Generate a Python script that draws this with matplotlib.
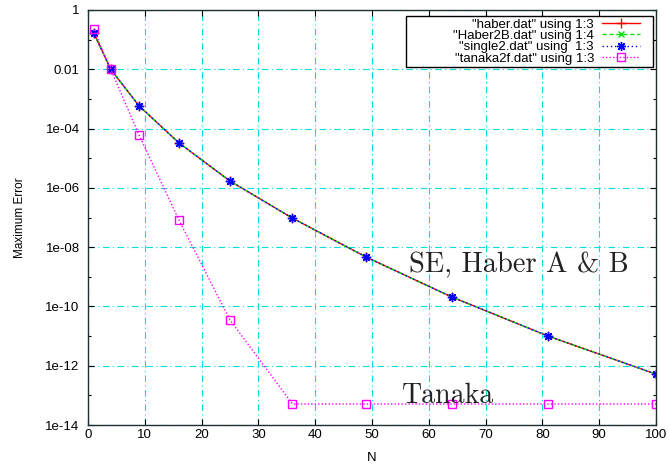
import numpy as np
import matplotlib.pyplot as plt
from matplotlib.patches import Rectangle
from matplotlib.ticker import FixedLocator, FuncFormatter, NullFormatter

plt.rcParams["font.family"] = ["Liberation Sans", "DejaVu Sans"]

# grid sizes N and maximum errors of each run
n_vals = [1, 4, 9, 16, 25, 36, 49, 64, 81, 100]
haber_err = [0.17, 1.0e-2, 5.8e-4, 3.3e-5, 1.7e-6, 9.5e-8, 4.6e-9, 2.1e-10, 1.0e-11, 5.2e-13]
haber2b_err = [0.17, 1.0e-2, 5.8e-4, 3.3e-5, 1.7e-6, 9.5e-8, 4.6e-9, 2.1e-10, 1.0e-11, 5.2e-13]
single2_err = [0.17, 1.0e-2, 5.8e-4, 3.3e-5, 1.7e-6, 9.5e-8, 4.6e-9, 2.1e-10, 1.0e-11, 5.2e-13]
tanaka_err = [0.22, 1.0e-2, 6.0e-5, 8.3e-8, 3.5e-11, 5.1e-14, 5.1e-14, 5.1e-14, 5.1e-14, 5.1e-14]

labels = [
    '"haber.dat" using 1:3',
    '"Haber2B.dat" using 1:4',
    '"single2.dat" using  1:3',
    '"tanaka2f.dat" using 1:3',
]

fig = plt.figure(figsize=(6.69, 4.68), dpi=100)
ax = fig.add_axes([88 / 669, 1 - 425 / 468, 568 / 669, 415 / 468])

ax.plot(n_vals, haber_err, color="#ff0000", ls="-", lw=1.0, marker="+",
        ms=7, mew=1.0, label=labels[0])
ax.plot(n_vals, haber2b_err, color="#00e000", ls=(0, (3, 2)), lw=1.0, marker="x",
        ms=5, mew=1.0, label=labels[1])
ax.plot(n_vals, single2_err, color="#0000ff", ls=(0, (1, 2)), lw=1.0, marker=(8, 2, 0),
        ms=6.5, mew=1.0, label=labels[2])
ax.plot(n_vals, tanaka_err, color="#ff00ff", ls=(0, (1, 1.5)), lw=1.0, marker="s",
        ms=6, mew=1.0, mfc="none", label=labels[3])

ax.set_yscale("log")
ax.set_xlim(0, 100)
ax.set_ylim(1e-14, 1)

ax.xaxis.set_major_locator(FixedLocator(np.arange(0, 101, 10)))
ax.yaxis.set_major_locator(FixedLocator([10.0 ** e for e in range(-14, 1, 2)]))
ax.yaxis.set_minor_locator(FixedLocator([10.0 ** e for e in range(-13, 0, 2)]))


def fmt_y(v, pos):
    e = int(round(np.log10(v)))
    if e == 0:
        return "1"
    if e == -2:
        return "0.01"
    return "1e%03d" % e if e < 0 else "1e%02d" % e


ax.yaxis.set_major_formatter(FuncFormatter(fmt_y))
ax.yaxis.set_minor_formatter(NullFormatter())
ax.tick_params(which="both", direction="in", top=True, right=True, labelsize=9.5)
ax.tick_params(which="major", length=4.5, width=0.8)
ax.tick_params(which="minor", length=2.5, width=0.8)
ax.tick_params(axis="y", pad=6)
ax.tick_params(axis="x", pad=3)

ax.grid(True, which="major", color="#00e0e0", ls=(0, (6, 3, 1, 3)), lw=0.8)
for s in ax.spines.values():
    s.set_linewidth(1.0)
    s.set_color("#203030")

ax.set_xlabel("N", fontsize=9.5)
ax.set_ylabel("Maximum Error", fontsize=8.5)
ax.xaxis.set_label_coords(0.5, -0.065)
ax.yaxis.set_label_coords(-0.11, 0.5)

ax.text(56.6, 10 ** -8.6, "SE, Haber A & B", family="cmr10", fontsize=20.5,
        va="center", ha="left", color="#222222")
ax.text(55.3, 10 ** -13.0, "Tanaka", family="cmr10", fontsize=20,
        va="center", ha="left", color="#222222")

# gnuplot-style key: wide white box, labels right-aligned against the samples
key_box = Rectangle((0.56, 0.8627), 0.4347, 0.1228, transform=ax.transAxes,
                    facecolor="white", edgecolor="black", lw=1.0, zorder=4.5)
ax.add_patch(key_box)
leg = ax.legend(loc="upper right", bbox_to_anchor=(0.972, 0.980), markerfirst=False,
                fontsize=9.5, frameon=False, handlelength=2.9, labelspacing=-0.06,
                borderpad=0, borderaxespad=0, handletextpad=0.6)
leg.set_zorder(5)

fig.savefig("out.png", dpi=100)
